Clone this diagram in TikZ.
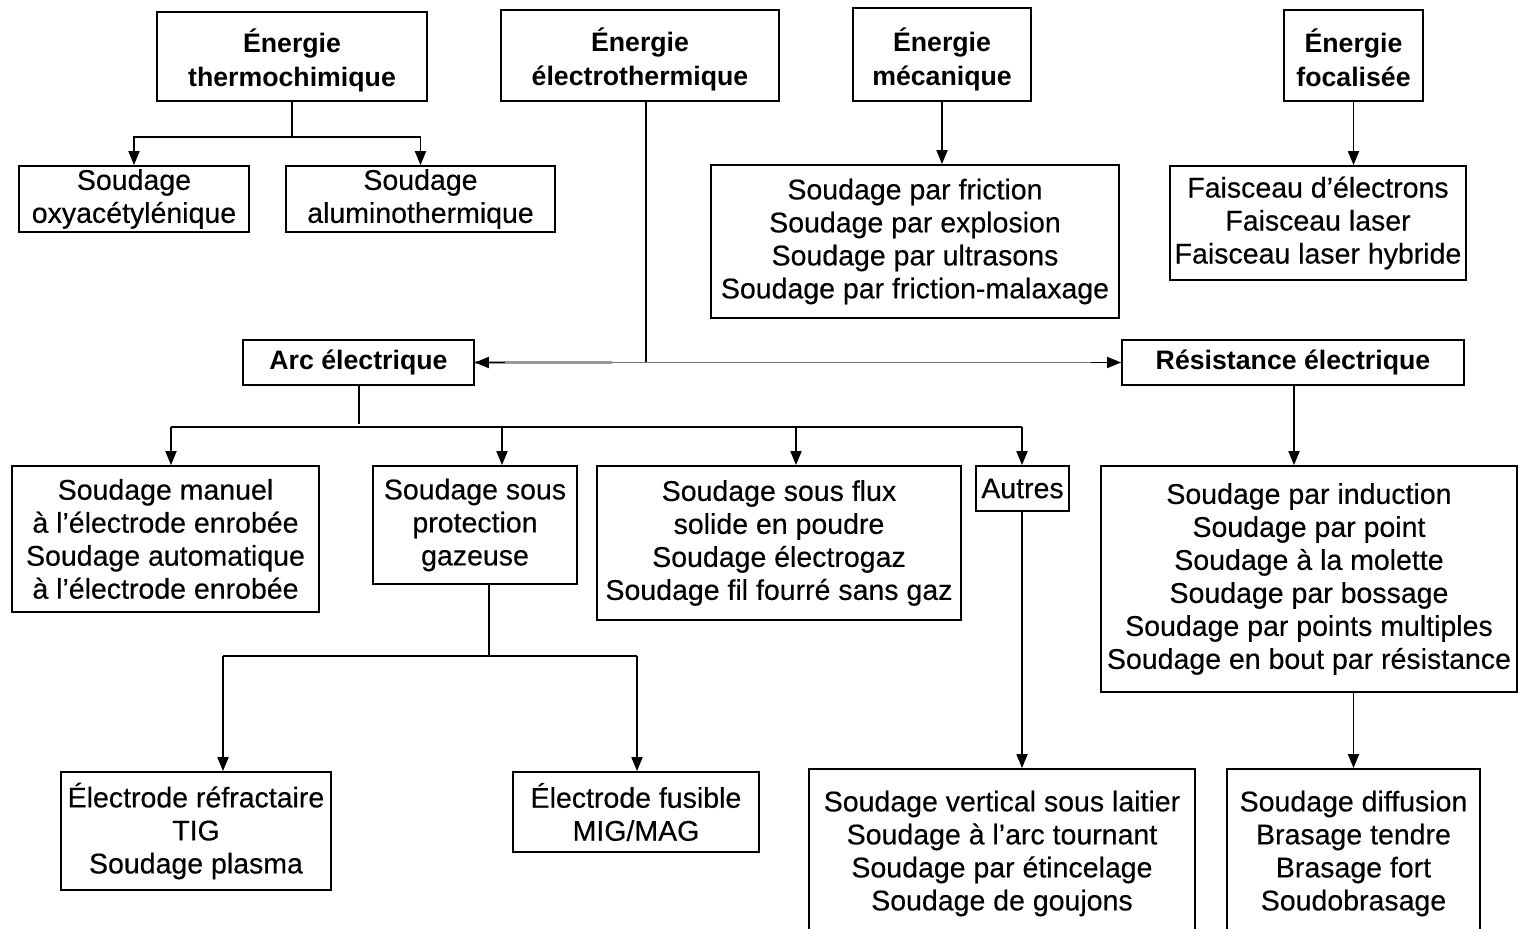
\documentclass[tikz,border=0pt]{standalone}
\usepackage{fontspec}
\setmainfont{Liberation Sans}
\newfontfamily\regfam{Liberation Sans}[FakeBold=0.35]
\usetikzlibrary{arrows.meta}
\newcommand\regfont{\regfam\fontsize{28.5}{33}\selectfont}
\newcommand\bldfont{\fontsize{26.7}{34}\selectfont\bfseries}
\begin{document}
\begin{tikzpicture}[x=1pt,y=-1pt,
  box/.style={draw, line width=1.8pt, inner sep=0pt, align=center, font=\regfont},
  hbox/.style={box, font=\bldfont},
  conn/.style={line width=1.8pt},
  arr/.style={conn, -{Triangle[length=14pt,width=11pt]}}]
\useasboundingbox (0,0) rectangle (1518,929);
\clip (0,0) rectangle (1518,929);
% top level
\node[hbox, minimum width=270pt, minimum height=89pt] (thermo) at (292,56.5) {\rule{0pt}{31pt}Énergie\\thermochimique};
\node[hbox, minimum width=278pt, minimum height=91pt] (electro) at (640,55.5) {\rule{0pt}{31pt}Énergie\\électrothermique};
\node[hbox, minimum width=178pt, minimum height=93pt] (meca) at (942,54.5) {\rule{0pt}{33pt}Énergie\\mécanique};
\node[hbox, minimum width=139pt, minimum height=91pt] (foc) at (1353.5,55.5) {\rule{0pt}{29pt}Énergie\\focalisée};
% second row
\node[box, minimum width=230pt, minimum height=66pt] (oxy) at (134,199) {Soudage\\oxyacétylénique};
\node[box, minimum width=269pt, minimum height=66pt] (alu) at (420.5,199) {Soudage\\aluminothermique};
\node[box, minimum width=408pt, minimum height=153pt] (mecl) at (915,241.5) {Soudage par friction\\Soudage par explosion\\Soudage par ultrasons\\Soudage par friction-malaxage};
\node[box, minimum width=296pt, minimum height=114pt] (focl) at (1318,223) {Faisceau d’électrons\\Faisceau laser\\Faisceau laser hybride};
% arc / resistance
\node[hbox, minimum width=231pt, minimum height=45pt] (arc) at (358.5,362.5) {Arc électrique};
\node[hbox, minimum width=342pt, minimum height=45pt] (res) at (1293,362.5) {Résistance électrique};
% third row
\node[box, minimum width=307pt, minimum height=146pt] (man) at (165.5,539) {Soudage manuel\\à l’électrode enrobée\\Soudage automatique\\à l’électrode enrobée};
\node[box, minimum width=204pt, minimum height=118pt] (gaz) at (475,525) {Soudage sous\\protection\\gazeuse};
\node[box, minimum width=364pt, minimum height=154pt] (flux) at (779,543) {Soudage sous flux\\solide en poudre\\Soudage électrogaz\\Soudage fil fourré sans gaz};
\node[box, minimum width=93pt, minimum height=45pt] (aut) at (1022.5,488.5) {Autres};
\node[box, minimum width=416pt, minimum height=226pt] (resl) at (1309,579) {Soudage par induction\\Soudage par point\\Soudage à la molette\\Soudage par bossage\\Soudage par points multiples\\Soudage en bout par résistance};
% bottom row
\node[box, minimum width=270pt, minimum height=118pt] (refr) at (196,831) {Électrode réfractaire\\TIG\\Soudage plasma};
\node[box, minimum width=246pt, minimum height=80pt] (fus) at (636,812) {Électrode fusible\\MIG/MAG};
\node[box, minimum width=386pt, minimum height=169pt] (vert) at (1002,853.5) {Soudage vertical sous laitier\\Soudage à l’arc tournant\\Soudage par étincelage\\Soudage de goujons};
\node[box, minimum width=253pt, minimum height=169pt] (diff) at (1353.5,853.5) {Soudage diffusion\\Brasage tendre\\Brasage fort\\Soudobrasage};
% connectors: thermochimique
\coordinate (t0) at (292,137);
\draw[conn] (thermo.south) -- (t0);
\draw[arr] (t0) -| (oxy.north);
\draw[arr] (t0) -| (alu.north);
% electrothermique
\coordinate (e0) at (646,362.5);
\coordinate (e1) at (612,362.5);
\draw[conn] (electro.south -| e0) -- (e0);
\draw[line width=2.6pt, black!40] (e1) -- (arc.east);
\draw[line width=1.6pt, black!55] (e1) -- (res.west);
\draw[arr] ([xshift=30pt]arc.east) -- (arc.east);
\draw[arr] ([xshift=-30pt]res.west) -- (res.west);
% mecanique, focalisee
\draw[arr] (meca.south) -- (meca.south |- mecl.north);
\draw[arr] (foc.south) -- (foc.south |- focl.north);
% arc electrique
\coordinate (a0) at (359,427);
\coordinate (a1) at (171,427);
\coordinate (a2) at (502,427);
\coordinate (a3) at (796,427);
\coordinate (a4) at (1022,427);
\draw[conn] (arc.south -| a0) -- ([yshift=3pt]a0);
\draw[conn] (a1) -- (a4);
\draw[arr] (a1) -- (a1 |- man.north);
\draw[arr] (a2) -- (a2 |- gaz.north);
\draw[arr] (a3) -- (a3 |- flux.north);
\draw[arr] (a4) -- (a4 |- aut.north);
\draw[arr] (aut.south -| a4) -- (a4 |- vert.north);
% protection gazeuse
\coordinate (g0) at (489,656);
\coordinate (g1) at (223,656);
\coordinate (g2) at (637,656);
\draw[conn] (gaz.south -| g0) -- (g0);
\draw[conn] (g1) -- (g2);
\draw[arr] (g1) -- (g1 |- refr.north);
\draw[arr] (g2) -- (g2 |- fus.north);
% resistance
\draw[arr] (res.south -| 1294,0) -- (1294,0 |- resl.north);
\draw[arr] (resl.south -| diff.north) -- (diff.north);
\end{tikzpicture}
\end{document}
